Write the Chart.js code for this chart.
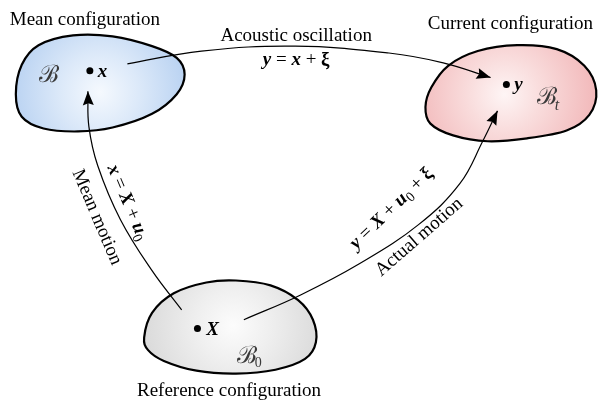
<!DOCTYPE html>
<html>
<head>
<meta charset="utf-8">
<script src="https://cdn.jsdelivr.net/npm/chart.js@4.4.1/dist/chart.umd.min.js"></script>
<style>
  html, body { margin: 0; padding: 0; background: #fff; }
  #contenedor { width: 616px; height: 410px; }
</style>
</head>
<body>
<div id="contenedor"><canvas id="diagrama"></canvas></div>
<script>
// Contornos de las tres configuraciones (coordenadas del dibujo)
const meanBlobX = [12, 18, 35, 70, 110, 150, 175, 183, 175, 150, 110, 75, 40, 18];
const meanBlobY = [92, 62, 42, 32, 33, 43, 55, 72, 92, 112, 126, 130, 127, 115];
const currentBlobX = [427, 433, 450, 480, 520, 560, 588, 600, 593, 570, 530, 490, 455, 432];
const currentBlobY = [105, 85, 63, 48, 42, 46, 63, 88, 113, 129, 137, 140, 134, 122];
const refBlobX = [142, 150, 172, 205, 235, 270, 298, 313, 316, 305, 275, 235, 195, 162, 146];
const refBlobY = [340, 315, 295, 284, 282, 287, 302, 322, 345, 362, 373, 377, 374, 364, 353];

// Flechas
const acousticX = [125, 200, 295, 390, 445, 493];
const acousticY = [61, 48, 43, 50, 60, 75];
const meanMotionX = [180, 150, 118, 95, 86, 85];
const meanMotionY = [312, 272, 220, 165, 125, 89];
const actualMotionX = [243, 300, 360, 420, 462, 485, 500];
const actualMotionY = [322, 297, 265, 225, 183, 140, 109];

// Puntos x, y, X
const dotX = [87, 509, 196];
const dotY = [68, 82, 331];

const TITULOS = ["Mean configuration", "Current configuration", "Reference configuration"];
const ETIQUETAS = ["Acoustic oscillation", "Mean motion", "Actual motion"];

const serif = '"Liberation Serif", "DejaVu Serif", serif';
const F = {
  reg: `19px ${serif}`,
  bi: `bold italic 19px ${serif}`,
  b: `bold 19px ${serif}`,
  sub: `14px ${serif}`,
  cal: `24px "DejaVu Serif", serif`,
  calSub: `italic 16px ${serif}`,
};

function puntos(xs, ys) {
  return xs.map((x, i) => ({ x: x, y: ys[i] }));
}

const BLOBS = [
  { pts: puntos(meanBlobX, meanBlobY), stops: ["#f5f9fe", "#dce9f9", "#a8c7ee"], cx: 97, cy: 90, r: 112 },
  { pts: puntos(currentBlobX, currentBlobY), stops: ["#fef5f5", "#f9dcdc", "#f0b0b2"], cx: 507, cy: 92, r: 105 },
  { pts: puntos(refBlobX, refBlobY), stops: ["#fcfcfc", "#efefef", "#d4d4d4"], cx: 232, cy: 328, r: 105 },
];

// dibuja curva cerrada (catmull-rom) usando las escalas del chart
function curvaCerrada(ctx, chart, pts) {
  const sx = chart.scales.x, sy = chart.scales.y;
  const p = pts.map((q) => ({ x: sx.getPixelForValue(q.x), y: sy.getPixelForValue(q.y) }));
  const n = p.length;
  ctx.beginPath();
  ctx.moveTo(p[0].x, p[0].y);
  for (let i = 0; i < n; i++) {
    const p0 = p[(i - 1 + n) % n], p1 = p[i], p2 = p[(i + 1) % n], p3 = p[(i + 2) % n];
    ctx.bezierCurveTo(
      p1.x + (p2.x - p0.x) / 6, p1.y + (p2.y - p0.y) / 6,
      p2.x - (p3.x - p1.x) / 6, p2.y - (p3.y - p1.y) / 6,
      p2.x, p2.y
    );
  }
  ctx.closePath();
}

const pluginBlobs = {
  id: "blobs",
  beforeDatasetsDraw(chart) {
    const ctx = chart.ctx;
    const sx = chart.scales.x, sy = chart.scales.y;
    BLOBS.forEach((b) => {
      ctx.save();
      curvaCerrada(ctx, chart, b.pts);
      const cx = sx.getPixelForValue(b.cx), cy = sy.getPixelForValue(b.cy);
      const g = ctx.createRadialGradient(cx, cy, 0, cx, cy, b.r);
      g.addColorStop(0, b.stops[0]);
      g.addColorStop(0.35, b.stops[1]);
      g.addColorStop(1, b.stops[2]);
      ctx.fillStyle = g;
      ctx.fill();
      ctx.lineWidth = 2.2;
      ctx.strokeStyle = "#000";
      ctx.stroke();
      ctx.restore();
    });
  },
};

// texto con varias fuentes (para las ecuaciones)
function textoMixto(ctx, runs, x, y) {
  let w = 0;
  runs.forEach((r) => { ctx.font = r.f; w += ctx.measureText(r.t).width; });
  let cx = x - w / 2;
  runs.forEach((r) => {
    ctx.font = r.f;
    ctx.fillText(r.t, cx, y + (r.dy || 0));
    cx += ctx.measureText(r.t).width;
  });
}

function flecha(ctx, meta) {
  const pts = meta.data;
  const last = pts[pts.length - 1];
  let dx = last.x - last.cp1x, dy = last.y - last.cp1y;
  if (Math.hypot(dx, dy) < 0.5) { const prev = pts[pts.length - 2]; dx = last.x - prev.x; dy = last.y - prev.y; }
  const a = Math.atan2(dy, dx);
  ctx.save();
  ctx.translate(last.x, last.y);
  ctx.rotate(a);
  ctx.beginPath();
  ctx.moveTo(0, 0);
  ctx.lineTo(-14, -5.5);
  ctx.lineTo(-12, 0);
  ctx.lineTo(-14, 5.5);
  ctx.closePath();
  ctx.fillStyle = "#000";
  ctx.fill();
  ctx.restore();
}

const pluginTextos = {
  id: "textos",
  afterDatasetsDraw(chart) {
    const ctx = chart.ctx;
    const sx = chart.scales.x, sy = chart.scales.y;
    const px = (v) => sx.getPixelForValue(v), py = (v) => sy.getPixelForValue(v);
    [0, 1, 2].forEach((i) => flecha(ctx, chart.getDatasetMeta(i)));

    ctx.save();
    ctx.fillStyle = "#000";
    ctx.textBaseline = "alphabetic";
    ctx.font = F.reg;
    ctx.textAlign = "center";
    ctx.fillText(TITULOS[0], px(82), py(21));
    ctx.fillText(TITULOS[1], px(513), py(25));
    ctx.fillText(TITULOS[2], px(228), py(400));
    ctx.fillText(ETIQUETAS[0], px(296), py(38));
    ctx.textAlign = "left";

    // etiquetas de puntos
    ctx.font = F.bi;
    ctx.fillText("x", px(95), py(74));
    ctx.fillText("y", px(517), py(88));
    ctx.fillText("X", px(205), py(338));
    // cuerpos
    ctx.fillStyle = "#3a3a3a";
    ctx.font = F.cal;
    ctx.fillText("ℬ", px(35), py(80));
    ctx.fillText("ℬ", px(540), py(102));
    ctx.fillText("ℬ", px(236), py(366));
    ctx.font = F.calSub;
    ctx.fillText("t", px(558), py(108));
    ctx.font = F.sub;
    ctx.fillText("0", px(254), py(370));
    ctx.fillStyle = "#000";

    // y = x + xi
    textoMixto(ctx, [
      { t: "y", f: F.bi }, { t: " = ", f: F.reg }, { t: "x", f: F.bi },
      { t: " + ", f: F.reg }, { t: "ξ", f: F.b },
    ], px(296), py(62));

    // Mean motion
    ctx.save();
    ctx.translate(px(95), py(217));
    ctx.rotate(67 * Math.PI / 180);
    ctx.textAlign = "center";
    ctx.font = F.reg;
    ctx.fillText(ETIQUETAS[1], 0, 6);
    ctx.restore();

    ctx.save();
    ctx.translate(px(126), py(202));
    ctx.rotate(67 * Math.PI / 180);
    textoMixto(ctx, [
      { t: "x", f: F.bi }, { t: " = ", f: F.reg }, { t: "X", f: F.bi },
      { t: " + ", f: F.reg }, { t: "u", f: F.bi }, { t: "0", f: F.sub, dy: 4 },
    ], 0, 6);
    ctx.restore();

    // Actual motion
    ctx.save();
    ctx.translate(px(392), py(208));
    ctx.rotate(-44 * Math.PI / 180);
    textoMixto(ctx, [
      { t: "y", f: F.bi }, { t: " = ", f: F.reg }, { t: "X", f: F.bi },
      { t: " + ", f: F.reg }, { t: "u", f: F.bi }, { t: "0", f: F.sub, dy: 4 },
      { t: " + ", f: F.reg }, { t: "ξ", f: F.b },
    ], 0, 6);
    ctx.restore();

    ctx.save();
    ctx.translate(px(420), py(237));
    ctx.rotate(-41 * Math.PI / 180);
    ctx.textAlign = "center";
    ctx.font = F.reg;
    ctx.fillText(ETIQUETAS[2], 0, 6);
    ctx.restore();

    ctx.restore();
  },
};

function curvaDataset(xs, ys) {
  return {
    type: "scatter",
    data: puntos(xs, ys),
    showLine: true,
    tension: 0.4,
    borderColor: "#000",
    borderWidth: 1.2,
    pointRadius: 0,
    fill: false,
  };
}

new Chart(document.getElementById("diagrama"), {
  type: "scatter",
  data: {
    datasets: [
      curvaDataset(acousticX, acousticY),
      curvaDataset(meanMotionX, meanMotionY),
      curvaDataset(actualMotionX, actualMotionY),
      {
        data: puntos(dotX, dotY),
        pointRadius: 3.5,
        backgroundColor: "#000",
        borderWidth: 0,
      },
    ],
  },
  options: {
    responsive: true,
    maintainAspectRatio: false,
    animation: false,
    events: [],
    layout: { padding: 0 },
    scales: {
      x: { type: "linear", min: 0, max: 616, display: false },
      y: { type: "linear", min: 0, max: 410, reverse: true, display: false },
    },
    plugins: { legend: { display: false }, tooltip: { enabled: false } },
  },
  plugins: [pluginBlobs, pluginTextos],
});
</script>
</body>
</html>
